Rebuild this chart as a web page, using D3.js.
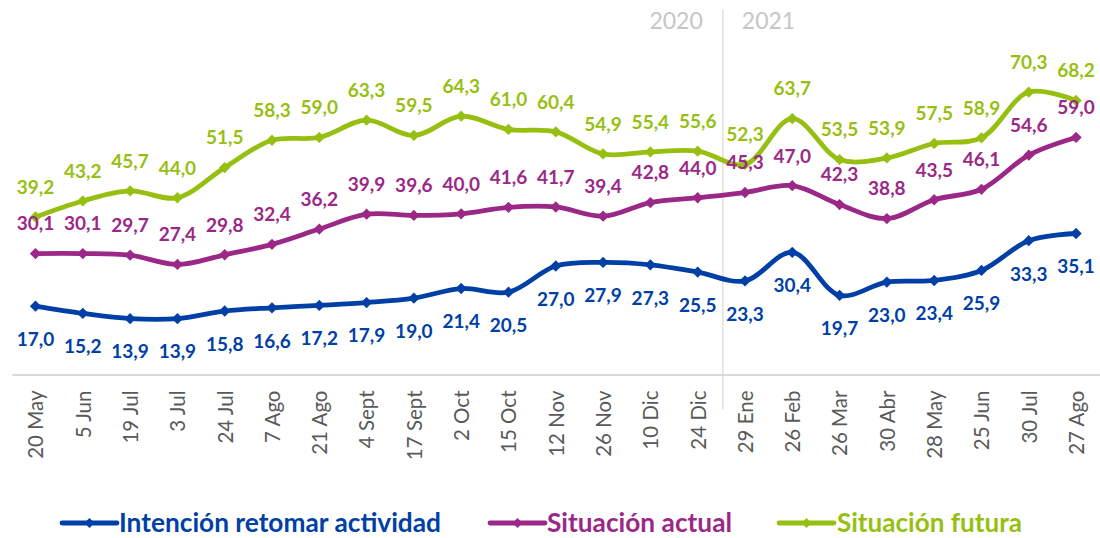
<!DOCTYPE html>
<html>
<head>
<meta charset="utf-8">
<script src="https://cdn.jsdelivr.net/npm/d3@7"></script>
<style>
  html, body { margin: 0; padding: 0; background: #ffffff; }
  svg { display: block; }
</style>
</head>
<body>
<svg id="chart" width="1100" height="538"></svg>
<script>
// Survey dates (2020 – 2021)
const categories = [
  "20 May", "5 Jun", "19 Jul", "3 Jul", "24 Jul", "7 Ago", "21 Ago", "4 Sept",
  "17 Sept", "2 Oct", "15 Oct", "12 Nov", "26 Nov", "10 Dic", "24 Dic",
  "29 Ene", "26 Feb", "26 Mar", "30 Abr", "28 May", "25 Jun", "30 Jul", "27 Ago"
];

const intencionRetomar = [17.0, 15.2, 13.9, 13.9, 15.8, 16.6, 17.2, 17.9, 19.0, 21.4, 20.5, 27.0,
  27.9, 27.3, 25.5, 23.3, 30.4, 19.7, 23.0, 23.4, 25.9, 33.3, 35.1];
const situacionActual = [30.1, 30.1, 29.7, 27.4, 29.8, 32.4, 36.2, 39.9, 39.6, 40.0, 41.6, 41.7,
  39.4, 42.8, 44.0, 45.3, 47.0, 42.3, 38.8, 43.5, 46.1, 54.6, 59.0];
const situacionFutura = [39.2, 43.2, 45.7, 44.0, 51.5, 58.3, 59.0, 63.3, 59.5, 64.3, 61.0, 60.4,
  54.9, 55.4, 55.6, 52.3, 63.7, 53.5, 53.9, 57.5, 58.9, 70.3, 68.2];

const seriesNames = ["Intención retomar actividad", "Situación actual", "Situación futura"];
const yearLabels = ["2020", "2021"];
const firstDateOfNewYear = "29 Ene";

const colors = ["#0040a6", "#9b2886", "#97bf12"];

const series = [
  { name: seriesNames[0], values: intencionRetomar, color: colors[0], labelOffset: 33 },
  { name: seriesNames[1], values: situacionActual, color: colors[1], labelOffset: -30 },
  { name: seriesNames[2], values: situacionFutura, color: colors[2], labelOffset: -30 }
];

const svg = d3.select("#chart");

const x = d3.scalePoint()
  .domain(categories)
  .range([11.85, 1099.7])
  .padding(0.5);

const y = d3.scaleLinear()
  .domain([0, 80])
  .range([374.5, 53.1]);

// Excel-style rotated diamond marker
const diamond = {
  draw(ctx, size) {
    const r = Math.sqrt(size / 2);
    ctx.moveTo(0, -r);
    ctx.lineTo(r, 0);
    ctx.lineTo(0, r);
    ctx.lineTo(-r, 0);
    ctx.closePath();
  }
};

// Year separator
const newYearIdx = categories.indexOf(firstDateOfNewYear);
const sepX = (x(categories[newYearIdx - 1]) + x(categories[newYearIdx])) / 2 + 1.5;
svg.append("line")
  .attr("x1", sepX).attr("x2", sepX)
  .attr("y1", 10).attr("y2", 409)
  .attr("stroke", "#e5e2d6")
  .attr("stroke-width", 1.6);

svg.append("text")
  .attr("x", sepX - 20).attr("y", 29)
  .attr("text-anchor", "end")
  .attr("font-family", "Lato, 'Open Sans', sans-serif")
  .attr("font-size", 23)
  .attr("fill", "#c6c6c6")
  .text(yearLabels[0]);
svg.append("text")
  .attr("x", sepX + 19).attr("y", 29)
  .attr("text-anchor", "start")
  .attr("font-family", "Lato, 'Open Sans', sans-serif")
  .attr("font-size", 23)
  .attr("fill", "#c6c6c6")
  .text(yearLabels[1]);

// X axis
const xAxis = svg.append("g")
  .attr("transform", `translate(0,${y(0)})`)
  .call(d3.axisBottom(x).tickSize(0).tickSizeOuter(0));
xAxis.select(".domain")
  .attr("stroke", "#d9d9d9")
  .attr("stroke-width", 2);
xAxis.selectAll(".tick text")
  .attr("transform", "rotate(-90)")
  .attr("x", -16)
  .attr("y", 0)
  .attr("dy", "0.36em")
  .attr("text-anchor", "end")
  .attr("font-family", "Lato, 'Open Sans', sans-serif")
  .attr("font-size", 20.5)
  .attr("fill", "#595959");

// Lines
const line = d3.line()
  .x((d, i) => x(categories[i]))
  .y(d => y(d))
  .curve(d3.curveCatmullRom.alpha(0.5));

const sym = d3.symbol().type(diamond).size(64);

series.forEach(s => {
  const g = svg.append("g");
  g.append("path")
    .datum(s.values)
    .attr("d", line)
    .attr("fill", "none")
    .attr("stroke", s.color)
    .attr("stroke-width", 4.8)
    .attr("stroke-linejoin", "round");
  g.selectAll("path.marker")
    .data(s.values)
    .join("path")
    .attr("class", "marker")
    .attr("transform", (d, i) => `translate(${x(categories[i])},${y(d)})`)
    .attr("d", sym)
    .attr("fill", s.color);
});

// Data labels
const fmt = v => v.toFixed(1).replace(".", ",");
series.forEach(s => {
  svg.append("g").selectAll("text")
    .data(s.values)
    .join("text")
    .attr("x", (d, i) => x(categories[i]))
    .attr("y", d => y(d) + s.labelOffset)
    .attr("dy", "0.36em")
    .attr("text-anchor", "middle")
    .attr("font-family", "Lato, 'Open Sans', sans-serif")
    .attr("font-weight", "bold")
    .attr("font-size", 19)
    .attr("fill", s.color)
    .text(fmt);
});

// Legend
const legendItems = [
  { x1: 62, x2: 117, tx: 119, tw: 322 },
  { x1: 490, x2: 545, tx: 547, tw: 185 },
  { x1: 779, x2: 834, tx: 837, tw: 185 }
];
const legendY = 523;
series.forEach((s, i) => {
  const it = legendItems[i];
  const g = svg.append("g");
  g.append("line")
    .attr("x1", it.x1).attr("x2", it.x2)
    .attr("y1", legendY).attr("y2", legendY)
    .attr("stroke", s.color)
    .attr("stroke-width", 4.8)
    .attr("stroke-linecap", "round");
  g.append("path")
    .attr("transform", `translate(${(it.x1 + it.x2) / 2},${legendY})`)
    .attr("d", d3.symbol().type(diamond).size(50))
    .attr("fill", s.color);
  g.append("text")
    .attr("x", it.tx)
    .attr("y", 532)
    .attr("font-family", "Lato, 'Open Sans', sans-serif")
    .attr("font-weight", "bold")
    .attr("font-size", 27)
    .attr("fill", s.color)
    .attr("textLength", it.tw)
    .attr("lengthAdjust", "spacingAndGlyphs")
    .text(s.name);
});
</script>
</body>
</html>
